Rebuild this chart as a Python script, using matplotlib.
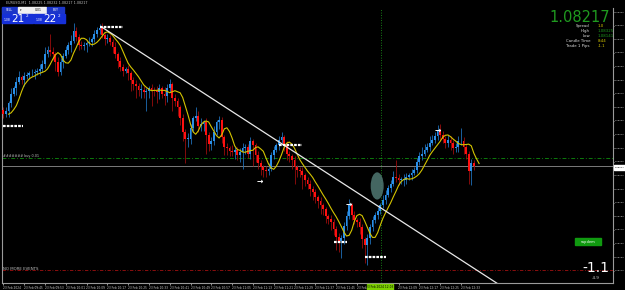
import matplotlib
matplotlib.use("Agg")
import matplotlib.pyplot as plt
from matplotlib.patches import Ellipse, Rectangle
import numpy as np
import pandas as pd

# ---------------- data (prices in points above 1.08000) ----------------
BASE = 1.08
first_open_pts = 258
close_pts = [
    255, 257, 263, 270, 274, 279, 282, 280, 283, 284,
    285, 285, 286, 287, 288, 292, 299, 302, 301, 299,
    293, 286, 293, 298, 302, 306, 309, 316, 312, 306,
    305, 306, 307, 308, 310, 314, 317, 318, 313, 310,
    311, 308, 304, 299, 294, 290, 287, 288, 285, 280,
    277, 276, 273, 273, 271, 272, 274, 273, 272, 271,
    274, 270, 268, 274, 277, 267, 265, 260, 252, 242,
    237, 237, 245, 252, 254, 246, 248, 249, 240, 233,
    235, 242, 249, 251, 238, 231, 230, 228, 227, 229,
    225, 227, 230, 231, 226, 235, 232, 225, 219, 216,
    214, 213, 215, 225, 229, 232, 236, 238, 232, 226,
    224, 221, 216, 214, 213, 210, 207, 204, 200, 198,
    194, 191, 188, 185, 180, 178, 176, 171, 165, 162,
    164, 173, 180, 188, 181, 177, 176, 172, 163, 159,
    164, 172, 177, 181, 184, 188, 192, 196, 201, 204,
    209, 208, 207, 207, 207, 209, 210, 212, 214, 220,
    224, 226, 229, 231, 234, 236, 239, 243, 240, 237,
    234, 236, 234, 230, 231, 235, 235, 231, 226, 213,
    219, 217,
]
upper_wick_pts = [
    2, 3, 2, 4, 2, 3, 5, 2, 3, 2,
    2, 3, 2, 2, 4, 3, 5, 3, 12, 3,
    2, 4, 3, 2, 3, 2, 4, 6, 3, 2,
    3, 2, 2, 4, 2, 3, 2, 3, 4, 2,
    3, 2, 2, 4, 2, 3, 2, 2, 3, 2,
    2, 3, 2, 4, 3, 2, 2, 3, 2, 4,
    3, 2, 5, 3, 4, 2, 3, 2, 2, 3,
    2, 4, 3, 2, 6, 3, 4, 2, 3, 2,
    3, 4, 2, 3, 2, 2, 3, 2, 4, 2,
    2, 3, 4, 2, 2, 3, 2, 2, 3, 2,
    2, 3, 4, 2, 3, 2, 3, 4, 2, 3,
    2, 2, 3, 2, 2, 3, 2, 2, 3, 2,
    2, 2, 3, 2, 2, 2, 3, 2, 2, 3,
    2, 3, 4, 5, 2, 3, 2, 3, 2, 2,
    3, 2, 3, 2, 3, 2, 4, 3, 2, 3,
    4, 12, 3, 2, 4, 3, 2, 3, 2, 3,
    3, 5, 4, 3, 5, 4, 3, 4, 5, 3,
    2, 4, 3, 2, 3, 4, 10, 3, 2, 2,
    3, 2,
]
lower_wick_pts = [
    3, 2, 4, 3, 2, 5, 2, 3, 4, 2,
    3, 2, 4, 2, 3, 2, 3, 2, 3, 4,
    6, 3, 2, 4, 2, 3, 5, 2, 3, 4,
    2, 3, 5, 2, 3, 2, 2, 3, 2, 4,
    3, 2, 4, 3, 5, 3, 4, 2, 5, 8,
    4, 9, 5, 6, 4, 14, 5, 12, 4, 8,
    5, 3, 6, 4, 3, 10, 4, 6, 5, 7,
    18, 6, 4, 3, 2, 4, 3, 5, 14, 5,
    4, 3, 2, 5, 4, 6, 5, 4, 3, 5,
    4, 5, 12, 4, 3, 4, 15, 5, 4, 6,
    5, 4, 3, 2, 3, 2, 3, 2, 4, 5,
    4, 6, 12, 5, 4, 10, 5, 4, 5, 6,
    4, 5, 6, 4, 5, 4, 6, 5, 10, 8,
    13, 4, 3, 2, 4, 3, 4, 5, 6, 13,
    15, 4, 3, 2, 3, 2, 2, 3, 2, 3,
    2, 3, 4, 3, 5, 3, 2, 3, 2, 2,
    2, 3, 2, 2, 3, 2, 2, 3, 4, 3,
    4, 3, 5, 4, 3, 4, 3, 5, 4, 9,
    10, 3,
]
ma_period = 4
ma_shift = 2

time_labels = ["23 Feb 2024", "23 Feb 09:45", "23 Feb 09:53", "23 Feb 10:01", "23 Feb 10:09",
               "23 Feb 10:17", "23 Feb 10:25", "23 Feb 10:33", "23 Feb 10:41", "23 Feb 10:49",
               "23 Feb 10:57", "23 Feb 11:05", "23 Feb 11:13", "23 Feb 11:21", "23 Feb 11:29",
               "23 Feb 11:37", "23 Feb 11:45", "23 Feb", "", "23 Feb 12:09",
               "23 Feb 12:17", "23 Feb 12:25", "23 Feb 12:33"]
time_label_idx = [0, 8, 16, 24, 32, 40, 48, 56, 64, 72, 80, 88, 96, 104, 112, 120, 128,
                  136, 144, 152, 160, 168, 176]

# chart objects (time index, price points)
trend_idx = [37.7, 197.0]
trend_pts = [319.2, 122.0]
pivot_start = [0.0, 37.0, 106.0, 127.0, 139.0]
pivot_end = [7.7, 46.0, 115.0, 132.0, 147.0]
pivot_pts = [246.4, 319.0, 232.4, 161.0, 150.0]
arrow_idx = [98.8, 132.7, 167.0]
arrow_pts = [206.0, 189.0, 243.4]
ellipse_idx, ellipse_pts = 143.8, 202.3
buy_line_pts = 223.0
bid_pts = 217.0
event_line_pts = 140.5
crosshair_idx = 145.4

to_price = lambda p: BASE + np.asarray(p, dtype=float) / 1e5

closes = to_price(close_pts)
opens = np.concatenate([[to_price(first_open_pts)], closes[:-1]])
highs = np.maximum(opens, closes) + np.asarray(upper_wick_pts) / 1e5
lows = np.minimum(opens, closes) - np.asarray(lower_wick_pts) / 1e5
x = np.arange(len(closes))
ma = pd.Series(closes).rolling(ma_period, min_periods=1).mean().values

W, H = 625, 290
fig = plt.figure(figsize=(W / 100, H / 100), dpi=100, facecolor="black")
ax = fig.add_axes([2 / W, 7 / H, 611 / W, 275 / H])
ax.set_facecolor("black")
ax.set_xlim(-0.5, 234.5)
ax.set_ylim(to_price(131), to_price(333))

up = closes >= opens
BLUE, RED = "#2a8fe8", "#ff1010"
ax.vlines(x[up], lows[up], highs[up], color="#1f6fb8", lw=0.6, zorder=2)
ax.vlines(x[~up], lows[~up], highs[~up], color="#9a0c0c", lw=0.6, zorder=2)
body = np.maximum(np.abs(closes - opens), 0.000004)
ax.bar(x[up], body[up], bottom=opens[up], width=0.75, color=BLUE, lw=0, zorder=3)
ax.bar(x[~up], body[~up], bottom=closes[~up], width=0.75, color=RED, lw=0, zorder=3)

ax.plot(x + ma_shift, ma, color="#d4c400", lw=0.8, zorder=4)

# lines
ax.axhline(to_price(buy_line_pts), color="#0c7a0c", lw=0.7, ls=(0, (4, 2, 1, 2)), zorder=1)
ax.axhline(to_price(bid_pts), color="#7a7a7a", lw=0.7, zorder=1)
ax.axhline(to_price(event_line_pts), color="#a01010", lw=0.6, ls=(0, (4, 2, 1, 2)), zorder=1)
ax.axvline(crosshair_idx, color="#1ea01e", lw=0.6, ls=(0, (1, 2)), zorder=1)
ax.plot(trend_idx, to_price(trend_pts), color="#e8e8e8", lw=0.9, zorder=5)

for s, e, p in zip(pivot_start, pivot_end, pivot_pts):
    ax.plot([s, e], [to_price(p)] * 2, color="white", lw=1.6, ls=(0, (1.2, 0.5)),
            solid_capstyle="butt", zorder=6)
for i, p in zip(arrow_idx, arrow_pts):
    ax.text(i, to_price(p), "\u2192", color="white", fontsize=5.5, fontweight="bold",
            ha="center", va="center", zorder=7)

ax.add_patch(Ellipse((ellipse_idx, to_price(ellipse_pts)), 5.0, 20 / 1e5,
                     facecolor="#4c726d", edgecolor="none", alpha=0.9, zorder=6))

# axes styling
ax.spines["top"].set_visible(False)
for s in ["left", "right", "bottom"]:
    ax.spines[s].set_color("#9a9a9a")
    ax.spines[s].set_linewidth(0.8)
ax.yaxis.tick_right()
yt = to_price(np.arange(140, 335, 10))
ax.set_yticks(yt)
ax.set_yticklabels([f"{v:.5f}" for v in yt])
ax.set_xticks(time_label_idx)
ax.set_xticklabels(time_labels, ha="left")
ax.tick_params(axis="y", colors="#cfcfcf", labelsize=1.7, length=1.0, width=0.5, pad=0.3)
ax.tick_params(axis="x", colors="#cfcfcf", labelsize=2.1, length=1.5, width=0.5, pad=0.8)

# overlay in pixel coordinates for terminal UI
ov = fig.add_axes([0, 0, 1, 1], facecolor="none")
ov.set_xlim(0, W)
ov.set_ylim(H, 0)
ov.axis("off")

ov.text(6, 3.5, "EURUSD,M1  1.08225 1.08232 1.08217 1.08217", color="#bdbdbd",
        fontsize=2.4, va="center")
# one-click panel
ov.add_patch(Rectangle((2, 7), 15, 6, color="#1c36c8"))
ov.add_patch(Rectangle((18, 7), 28, 6, color="#f0f0f0"))
ov.add_patch(Rectangle((47, 7), 17, 6, color="#1c36c8"))
ov.add_patch(Rectangle((2, 14), 31, 9, color="#1630d8"))
ov.add_patch(Rectangle((34, 14), 31, 9, color="#1630d8"))
ov.text(9.5, 10, "SELL", color="white", fontsize=2.2, ha="center", va="center")
ov.text(55.5, 10, "BUY", color="white", fontsize=2.2, ha="center", va="center")
ov.text(38, 10, "0.01", color="black", fontsize=2.2, ha="center", va="center")
ov.text(20.5, 10, "\u25be", color="black", fontsize=2.2, ha="center", va="center")
ov.text(4, 20, "1.08", color="white", fontsize=2.2, va="center")
ov.text(11, 19, "21", color="white", fontsize=7.5, va="center")
ov.text(26, 16, "2", color="white", fontsize=3.0, va="center")
ov.text(36, 20, "1.08", color="white", fontsize=2.2, va="center")
ov.text(43, 19, "22", color="white", fontsize=7.5, va="center")
ov.text(58, 16, "2", color="white", fontsize=3.0, va="center")

# info panel
ov.text(610, 17.5, "1.08217", color="#1f9a1f", fontsize=10.5, ha="right", va="center")
info = [("Spread", "1.0", "#d8c800"), ("High", "1.08325", "#1f9a1f"),
        ("Low", "1.08141", "#1f9a1f"), ("Candle Time", "8:44", "#d8c800"),
        ("Trade 1 Pips", "-1.1", "#d8c800")]
for k, (lab, val, c) in enumerate(info):
    yy = 26 + k * 5
    ov.text(590, yy, lab, color="#e0e0e0", fontsize=2.8, ha="right", va="center")
    ov.text(598, yy, val, color=c, fontsize=2.8, ha="left", va="center")

ov.text(3, 156.5, "####### buy 0.01", color="#bdbdbd", fontsize=2.4, va="center")
ov.text(3, 269, "NO MORE EVENTS", color="#bdbdbd", fontsize=2.8, va="center")

ov.add_patch(Rectangle((575, 238), 26, 7, color="#109a10"))
ov.text(588, 241.5, "supdem", color="white", fontsize=2.6, ha="center", va="center")
ov.text(596, 268, "-1.1", color="white", fontsize=10, ha="center", va="center")
ov.text(596, 278, "-4.9", color="#cfcfcf", fontsize=3.0, ha="center", va="center")

# bid price marker on the price axis
ov.add_patch(Rectangle((614, 164.5), 11, 5, color="white", zorder=5))
ov.text(614.5, 167, "1.08217", color="black", fontsize=1.7, va="center", zorder=6)
ov.add_patch(Rectangle((367, 284), 26, 5.5, color="#7cd000", zorder=5))
ov.text(380, 286.7, "23 Feb 2024 12:03", color="black", fontsize=2.1, ha="center",
        va="center", zorder=6)

fig.savefig("out.png", dpi=100, facecolor="black")
